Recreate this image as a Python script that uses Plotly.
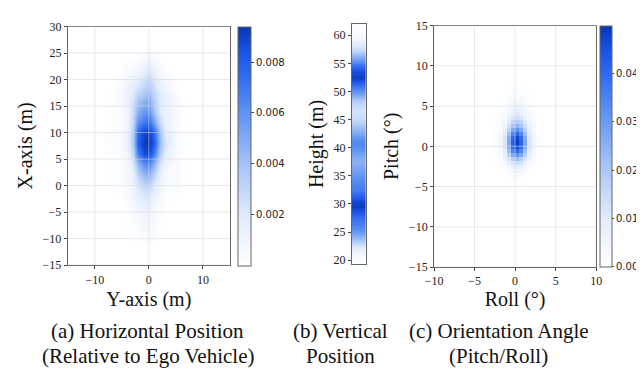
import numpy as np
import plotly.graph_objects as go

# ---------------- data ----------------
# (a) horizontal position density, grid centres (m); values in units of 1e-4
pos_lateral = [-8, -7, -6, -5, -4, -3, -2, -1, 0, 1, 2, 3, 4, 5, 6, 7, 8]
pos_longitudinal = [-12, -10, -8, -6, -4, -2, 0, 2, 4, 6, 8, 10, 12, 14, 16, 18, 20, 22, 24, 26]
density_xy_e4 = [
    [0, 0, 0, 0, 0, 0, 0, 0, 0, 0, 0, 0, 0, 0, 0, 0, 0],
    [0, 0, 0, 0, 0, 1, 2, 4, 4, 2, 1, 0, 0, 0, 0, 0, 0],
    [0, 0, 0, 0, 1, 2, 4, 6, 6, 4, 1, 0, 0, 0, 0, 0, 0],
    [0, 0, 0, 0, 1, 3, 6, 9, 9, 5, 2, 1, 0, 0, 0, 0, 0],
    [0, 0, 0, 1, 2, 6, 11, 14, 13, 9, 4, 1, 0, 0, 0, 0, 0],
    [0, 0, 1, 1, 3, 9, 16, 20, 20, 13, 6, 2, 1, 1, 0, 0, 0],
    [0, 1, 1, 2, 5, 12, 22, 30, 32, 20, 10, 4, 3, 4, 2, 0, 0],
    [1, 1, 2, 3, 6, 14, 32, 44, 46, 32, 15, 6, 4, 5, 3, 1, 0],
    [1, 2, 2, 3, 7, 20, 45, 60, 62, 46, 22, 10, 6, 4, 2, 1, 0],
    [1, 2, 3, 5, 10, 30, 68, 86, 88, 70, 36, 18, 10, 5, 2, 1, 0],
    [2, 3, 4, 6, 12, 36, 80, 92, 93, 82, 44, 24, 14, 7, 3, 1, 0],
    [2, 3, 4, 6, 12, 34, 76, 90, 91, 76, 40, 20, 12, 5, 2, 1, 0],
    [1, 2, 3, 5, 10, 30, 60, 70, 74, 54, 28, 14, 8, 4, 2, 1, 0],
    [1, 2, 3, 5, 10, 28, 48, 57, 58, 40, 20, 14, 11, 5, 2, 1, 0],
    [1, 1, 2, 5, 12, 24, 38, 46, 48, 34, 20, 14, 11, 6, 2, 1, 0],
    [0, 1, 2, 5, 12, 18, 27, 34, 38, 28, 17, 11, 7, 3, 1, 0, 0],
    [0, 0, 1, 4, 10, 12, 17, 24, 30, 20, 12, 6, 3, 1, 0, 0, 0],
    [0, 0, 0, 2, 4, 5, 8, 14, 20, 12, 5, 2, 1, 0, 0, 0, 0],
    [0, 0, 0, 0, 0, 1, 2, 5, 9, 5, 1, 0, 0, 0, 0, 0, 0],
    [0, 0, 0, 0, 0, 0, 0, 0, 0, 0, 0, 0, 0, 0, 0, 0, 0],
]

# (b) vertical position density (relative), heights in m
heights = [19.5, 20.5, 21.5, 22.5, 23.5, 24.5, 25.5, 26.5, 27.5, 28.5, 29.5,
           30.5, 31.5, 32.5, 33.5, 34.5, 35.5, 36.5, 37.5, 38.5, 39.5, 40.5,
           41.5, 42.5, 43.5, 44.5, 45.5, 46.5, 47.5, 48.5, 49.5, 50.5, 51.5,
           52.5, 53.5, 54.5, 55.5, 56.5, 57.5, 58.5, 59.5, 60.5, 61.5, 62.5]
height_density = [0.02, 0.05, 0.12, 0.22, 0.40, 0.55, 0.65, 0.72, 0.78, 0.88, 0.97,
                  0.95, 0.82, 0.72, 0.70, 0.65, 0.60, 0.55, 0.50, 0.55, 0.62, 0.68,
                  0.66, 0.55, 0.45, 0.35, 0.28, 0.25, 0.30, 0.40, 0.55, 0.70, 0.85,
                  0.97, 0.92, 0.78, 0.62, 0.45, 0.30, 0.18, 0.08, 0.04, 0.02, 0.01]

# (c) orientation density, bin centres (deg); values in units of 1e-3
roll_bins = [-2.75, -2.25, -1.75, -1.25, -0.75, -0.25, 0.25, 0.75, 1.25, 1.75, 2.25, 2.75, 3.25]
pitch_bins = [-4.5, -4.0, -3.5, -3.0, -2.5, -2.0, -1.5, -1.0, -0.5, 0.0, 0.5, 1.0, 1.5,
              2.0, 2.5, 3.0, 3.5, 4.0, 4.5, 5.0, 5.5, 6.0, 6.5, 7.0, 7.5, 8.0]
density_angle_e3 = [
    [0, 0, 0.1, 0.2, 0.3, 0.5, 0.6, 0.5, 0.3, 0.2, 0.1, 0, 0],
    [0, 0, 0.1, 0.3, 0.7, 1.0, 1.2, 1.0, 0.7, 0.3, 0.1, 0, 0],
    [0, 0.1, 0.3, 0.6, 1.4, 2.1, 2.5, 2.1, 1.4, 0.6, 0.3, 0.1, 0],
    [0.1, 0.2, 0.5, 1.2, 2.7, 4.2, 4.9, 4.2, 2.7, 1.2, 0.5, 0.2, 0.1],
    [0.2, 0.4, 0.9, 2.2, 4.8, 7.5, 8.8, 7.5, 4.8, 2.2, 0.9, 0.4, 0.2],
    [0.3, 0.6, 1.5, 3.7, 8.1, 12.5, 14.7, 12.5, 8.1, 3.7, 1.5, 0.6, 0.3],
    [0.4, 0.9, 2.2, 5.5, 12.1, 18.7, 22.0, 18.7, 12.1, 5.5, 2.2, 0.9, 0.4],
    [0.6, 1.3, 3.2, 8.0, 17.5, 27.1, 31.9, 27.1, 17.5, 8.0, 3.2, 1.3, 0.6],
    [0.8, 1.6, 4.0, 10.1, 22.1, 34.2, 40.2, 34.2, 22.1, 10.1, 4.0, 1.6, 0.8],
    [0.9, 1.9, 4.7, 11.7, 25.6, 39.6, 46.6, 39.6, 25.6, 11.7, 4.7, 1.9, 0.9],
    [1.0, 2.0, 4.9, 12.3, 27.0, 41.7, 49.0, 41.7, 27.0, 12.3, 4.9, 2.0, 1.0],
    [0.9, 1.9, 4.7, 11.7, 25.6, 39.6, 46.6, 39.6, 25.6, 11.7, 4.7, 1.9, 0.9],
    [0.8, 1.6, 4.0, 10.1, 22.1, 34.2, 40.2, 34.2, 22.1, 10.1, 4.0, 1.6, 0.8],
    [0.6, 1.3, 3.2, 8.0, 17.5, 27.1, 31.9, 27.1, 17.5, 8.0, 3.2, 1.3, 0.6],
    [0.5, 1.0, 2.5, 6.1, 13.5, 20.8, 24.5, 20.8, 13.5, 6.1, 2.5, 1.0, 0.5],
    [0.4, 0.7, 1.9, 4.7, 10.2, 15.8, 18.6, 15.8, 10.2, 4.7, 1.9, 0.7, 0.4],
    [0.3, 0.5, 1.4, 3.4, 7.5, 11.6, 13.7, 11.6, 7.5, 3.4, 1.4, 0.5, 0.3],
    [0.2, 0.4, 1.0, 2.5, 5.4, 8.3, 9.8, 8.3, 5.4, 2.5, 1.0, 0.4, 0.2],
    [0.1, 0.3, 0.7, 1.9, 4.1, 6.3, 7.4, 6.3, 4.1, 1.9, 0.7, 0.3, 0.1],
    [0.1, 0.2, 0.5, 1.4, 3.0, 4.6, 5.4, 4.6, 3.0, 1.4, 0.5, 0.2, 0.1],
    [0.1, 0.2, 0.4, 1.0, 2.1, 3.3, 3.9, 3.3, 2.1, 1.0, 0.4, 0.2, 0.1],
    [0.1, 0.1, 0.3, 0.7, 1.6, 2.5, 2.9, 2.5, 1.6, 0.7, 0.3, 0.1, 0.1],
    [0, 0.1, 0.2, 0.5, 1.1, 1.7, 2.0, 1.7, 1.1, 0.5, 0.2, 0.1, 0],
    [0, 0, 0.1, 0.3, 0.7, 1.0, 1.2, 1.0, 0.7, 0.3, 0.1, 0, 0],
    [0, 0, 0.1, 0.2, 0.4, 0.6, 0.7, 0.6, 0.4, 0.2, 0.1, 0, 0],
    [0, 0, 0.1, 0.1, 0.3, 0.4, 0.5, 0.4, 0.3, 0.1, 0.1, 0, 0],
]

xy_ticks_x = [-10, 0, 10]
xy_ticks_y = [-15, -10, -5, 0, 5, 10, 15, 20, 25, 30]
height_ticks = [20, 25, 30, 35, 40, 45, 50, 55, 60]
roll_ticks = [-10, -5, 0, 5, 10]
pitch_ticks = [-15, -10, -5, 0, 5, 10, 15]
cb_xy_ticks = [0.002, 0.004, 0.006, 0.008]
cb_angle_ticks = [0.00, 0.01, 0.02, 0.03, 0.04]

captions = [
    ("(a) Horizontal Position", "(Relative to Ego Vehicle)"),
    ("(b) Vertical", "Position"),
    ("(c) Orientation Angle", "(Pitch/Roll)"),
]

# ---------------- style ----------------
W, H = 644, 369
SERIF = "Liberation Serif"
SANS = "DejaVu Sans"
blues = [[0.0, "#ffffff"], [0.2, "#e2ecfd"], [0.4, "#adc8f8"], [0.6, "#6b9cf3"],
         [0.8, "#2f6af0"], [0.9, "#1a52e6"], [1.0, "#0836b5"]]


def px_x(p):
    return p / W


def px_y(p):
    return 1 - p / H


fig = go.Figure()

fig.add_trace(go.Heatmap(
    x=pos_lateral, y=pos_longitudinal, z=np.array(density_xy_e4) * 1e-4,
    colorscale=blues, zmin=0, zmax=0.0094, zsmooth="best",
    xaxis="x", yaxis="y",
    colorbar=dict(x=px_x(226), xanchor="left", y=px_y(12), yanchor="top",
                  len=(260 - 12) / H, lenmode="fraction", thickness=13,
                  outlinecolor="#666", outlinewidth=1, tickvals=cb_xy_ticks,
                  tickformat=".3f", ticks="outside", ticklen=3, tickcolor="#444",
                  tickfont=dict(family=SANS, size=10, color="#222"), xpad=0, ypad=0),
))

fig.add_trace(go.Heatmap(
    x=[0], y=heights, z=[[v] for v in height_density],
    colorscale=blues, zmin=0, zmax=1, zsmooth="best", showscale=False,
    xaxis="x2", yaxis="y2",
))

fig.add_trace(go.Heatmap(
    x=roll_bins, y=pitch_bins, z=np.array(density_angle_e3) * 1e-3,
    colorscale=blues, zmin=0, zmax=0.05, zsmooth=False,
    xaxis="x3", yaxis="y3",
    colorbar=dict(x=px_x(597), xanchor="left", y=px_y(11), yanchor="top",
                  len=(262 - 11) / H, lenmode="fraction", thickness=12,
                  outlinecolor="#666", outlinewidth=1, tickvals=cb_angle_ticks,
                  tickformat=".2f", ticks="outside", ticklen=2, tickcolor="#444",
                  tickfont=dict(family=SANS, size=10, color="#222"), xpad=0, ypad=0),
))

axis_common = dict(showline=True, mirror=True, linecolor="#666", linewidth=1,
                   ticks="outside", ticklen=3, tickcolor="#444",
                   tickfont=dict(family=SERIF, size=12, color="#222"),
                   showgrid=False, zeroline=False)
title_font = dict(family=SERIF, size=20, color="#111")

fig.update_layout(
    width=W, height=H, margin=dict(l=0, r=0, t=0, b=0),
    paper_bgcolor="white", plot_bgcolor="white", showlegend=False,
    font=dict(family=SERIF),
    xaxis=dict(axis_common, domain=[px_x(52), px_x(218)], range=[-15, 15],
               tickvals=xy_ticks_x, anchor="y",
               title=dict(text="Y-axis (m)", font=title_font, standoff=6)),
    yaxis=dict(axis_common, domain=[px_y(260), px_y(12)], range=[-15, 30],
               tickvals=xy_ticks_y, anchor="x",
               title=dict(text="X-axis (m)", font=title_font, standoff=4)),
    xaxis2=dict(axis_common, domain=[px_x(343), px_x(357)], range=[-0.5, 0.5],
                showticklabels=False, ticks="", anchor="y2"),
    yaxis2=dict(axis_common, domain=[px_y(259), px_y(9)], range=[19.3, 62.05],
                tickvals=height_ticks, anchor="x2",
                title=dict(text="Height (m)", font=title_font, standoff=4)),
    xaxis3=dict(axis_common, domain=[px_x(427), px_x(593)], range=[-10, 10],
                tickvals=roll_ticks, anchor="y3",
                title=dict(text="Roll (°)", font=title_font, standoff=2)),
    yaxis3=dict(axis_common, domain=[px_y(262), px_y(11)], range=[-15, 15],
                tickvals=pitch_ticks, anchor="x3",
                title=dict(text="Pitch (°)", font=title_font, standoff=4)),
)

# grid lines drawn over the heatmaps (as in the reference)
grid_col = "rgba(215,215,215,0.55)"
shapes = []
for xr, yr, xt, yt in [("x", "y", xy_ticks_x, xy_ticks_y),
                       ("x3", "y3", roll_ticks, pitch_ticks)]:
    for t in xt:
        shapes.append(dict(type="line", xref=xr, yref=yr + " domain", x0=t, x1=t,
                           y0=0, y1=1, line=dict(color=grid_col, width=1), layer="above"))
    for t in yt:
        shapes.append(dict(type="line", xref=xr + " domain", yref=yr, x0=0, x1=1,
                           y0=t, y1=t, line=dict(color=grid_col, width=1), layer="above"))
fig.update_layout(shapes=shapes)

# captions (two lines each)
cap_x = [134, 331, 493]
cap_line_y = [328, 354]
for cx, lines in zip(cap_x, captions):
    for ly, txt in zip(cap_line_y, lines):
        fig.add_annotation(text=txt, x=px_x(cx), y=px_y(ly), xref="paper", yref="paper",
                           xanchor="center", yanchor="middle", showarrow=False,
                           font=dict(family=SERIF, size=21, color="#111"))

fig.write_html("out.html")
